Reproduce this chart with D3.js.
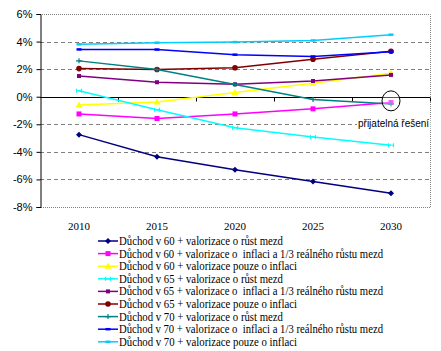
<!DOCTYPE html>
<html>
<head>
<meta charset="utf-8">
<script src="https://cdn.jsdelivr.net/npm/d3@7"></script>
<style>
  body { margin: 0; background: #fff; }
  svg { display: block; }
  .ylab { font: 11px "Liberation Sans", Arial, sans-serif; }
  .xlab { font: 11px "Liberation Serif", "Times New Roman", serif; }
  .leg { font: 12px "Liberation Serif", "Times New Roman", serif; white-space: pre; }
  .note { font: 10px "Liberation Sans", Arial, sans-serif; }
</style>
</head>
<body>
<div id="container"></div>
<script>
// data
const years = [2010, 2015, 2020, 2025, 2030];
const yTicks = [-8, -6, -4, -2, 0, 2, 4, 6];

const seriesNames = [
  "Důchod v 60 + valorizace o růst mezd",
  "Důchod v 60 + valorizace o  inflaci a 1/3 reálného růstu mezd",
  "Důchod v 60 + valorizace pouze o inflaci",
  "Důchod v 65 + valorizace o růst mezd",
  "Důchod v 65 + valorizace o  inflaci a 1/3 reálného růstu mezd",
  "Důchod v 65 + valorizace pouze o inflaci",
  "Důchod v 70 + valorizace o růst mezd",
  "Důchod v 70 + valorizace o  inflaci a 1/3 reálného růstu mezd",
  "Důchod v 70 + valorizace pouze o inflaci"
];

const d60Rust = [-2.75, -4.35, -5.3, -6.15, -7.0];
const d60Tretina = [-1.25, -1.58, -1.25, -0.88, -0.42];
const d60Inflace = [-0.6, -0.38, 0.3, 0.97, 1.7];
const d65Rust = [0.44, -0.95, -2.25, -2.92, -3.52];
const d65Tretina = [1.5, 1.05, 0.9, 1.14, 1.58];
const d65Inflace = [2.04, 1.97, 2.1, 2.72, 3.3];
const d70Rust = [2.6, 1.97, 0.88, -0.2, -0.52];
const d70Tretina = [3.43, 3.42, 3.05, 2.92, 3.26];
const d70Inflace = [3.8, 3.92, 3.96, 4.08, 4.5];

const seriesValues = [d60Rust, d60Tretina, d60Inflace, d65Rust, d65Tretina,
                      d65Inflace, d70Rust, d70Tretina, d70Inflace];

const colors = ["#000080", "#ff00ff", "#ffff00", "#00ffff", "#800080",
                "#800000", "#008080", "#0000ff", "#00ccff"];
const markers = ["diamond", "square", "triangle", "cross", "smallsquare",
                 "circle", "plus", "dash", "dash"];

const noteText = "přijatelná řešení";

const WIDTH = 441, HEIGHT = 351;
const plot = { left: 40, right: 430, top: 14, bottom: 207 };

const svg = d3.select("#container").append("svg")
  .attr("width", WIDTH).attr("height", HEIGHT);

const x = d3.scaleBand().domain(years).range([plot.left, plot.right]);
const y = d3.scaleLinear().domain([-8, 6]).range([plot.bottom, plot.top]);
const cx = d => x(d) + x.bandwidth() / 2;

// gridlines
svg.append("g").selectAll("line")
  .data(yTicks.filter(t => t !== 0 && t !== -8 && t !== 6))
  .join("line")
  .attr("x1", plot.left).attr("x2", plot.right)
  .attr("y1", d => Math.round(y(d)) + 0.5).attr("y2", d => Math.round(y(d)) + 0.5)
  .attr("stroke", "#808080").attr("stroke-dasharray", "4,3");

// plot border (dotted)
svg.append("path")
  .attr("d", `M${plot.left},${plot.top + 0.5}H${plot.right + 0.5}V${plot.bottom + 0.5}H${plot.left}`)
  .attr("fill", "none").attr("stroke", "#808080").attr("stroke-dasharray", "1,1");

// y axis
const yAxis = d3.axisLeft(y).tickValues(yTicks).tickSize(4).tickFormat(d => d + "%");
const gy = svg.append("g")
  .attr("transform", `translate(${plot.left + 0.5},0)`)
  .call(yAxis);
gy.select(".domain").attr("stroke", "#000");
gy.selectAll("text").attr("class", "ylab").attr("font-family", null).attr("font-size", null)
  .attr("x", -8).attr("fill", "#000");

// x axis at 0%
const xAxis = d3.axisBottom(x).tickSize(0).tickFormat(d => d);
const gx = svg.append("g")
  .attr("transform", `translate(0,${Math.round(y(0)) + 0.5})`)
  .call(xAxis);
gx.select(".domain").attr("stroke", "#000").attr("d", `M${plot.left},0H${plot.right}`);
gx.selectAll("text").attr("class", "xlab").attr("font-family", null).attr("font-size", null)
  .attr("fill", "#000")
  .attr("y", plot.bottom + 22 - Math.round(y(0))).attr("dy", null);
gx.selectAll(".band-tick")
  .data(years)
  .join("line")
  .attr("x1", d => x(d) + x.bandwidth() + 0.5).attr("x2", d => x(d) + x.bandwidth() + 0.5)
  .attr("y1", 0).attr("y2", 4).attr("stroke", "#000");

// marker drawing
function drawMarker(g, type, color) {
  if (type === "diamond") {
    g.append("path").attr("d", "M0,-3L3,0L0,3L-3,0Z").attr("fill", color);
  } else if (type === "square") {
    g.append("rect").attr("x", -2.5).attr("y", -2.5).attr("width", 5).attr("height", 5).attr("fill", color);
  } else if (type === "smallsquare") {
    g.append("rect").attr("x", -2).attr("y", -2).attr("width", 4).attr("height", 4).attr("fill", color);
  } else if (type === "triangle") {
    g.append("path").attr("d", "M0,-3.5L3.5,2.5L-3.5,2.5Z").attr("fill", color);
  } else if (type === "circle") {
    g.append("circle").attr("r", 2.8).attr("fill", color);
  } else if (type === "cross") {
    g.append("path").attr("d", "M-2.5,-2V2M2.5,-2V2M-3,0H3").attr("stroke", color).attr("stroke-width", 1.2);
  } else if (type === "plus") {
    g.append("path").attr("d", "M0,-2.5V2.5M-3,0H3").attr("stroke", color).attr("stroke-width", 1.2);
  } else if (type === "dash") {
    g.append("path").attr("d", "M-2.5,0H2.5").attr("stroke", color).attr("stroke-width", 2.5);
  }
}

const line = d3.line().x(d => cx(d.year)).y(d => y(d.value));

const seriesData = seriesValues.map((vals, i) => ({
  name: seriesNames[i], color: colors[i], marker: markers[i],
  points: years.map((yr, j) => ({ year: yr, value: vals[j] }))
}));

const series = svg.append("g").selectAll("g")
  .data(seriesData)
  .join("g");

series.append("path")
  .attr("d", d => line(d.points))
  .attr("fill", "none")
  .attr("stroke", d => d.color)
  .attr("stroke-width", 1.5);

series.each(function (s) {
  d3.select(this).selectAll(".pt")
    .data(s.points)
    .join("g")
    .attr("class", "pt")
    .attr("transform", d => `translate(${cx(d.year)},${y(d.value)})`)
    .each(function () { drawMarker(d3.select(this), s.marker, s.color); });
});

// annotation ellipse
svg.append("ellipse")
  .attr("cx", cx(2030)).attr("cy", y(-0.3))
  .attr("rx", 9).attr("ry", 10)
  .attr("fill", "#fff").attr("fill-opacity", 0.35)
  .attr("stroke", "#000").attr("stroke-width", 1);

const note = svg.append("g");
const noteBox = note.append("rect").attr("fill", "#fff");
const noteT = note.append("text").attr("class", "note")
  .attr("x", 358).attr("y", 127).attr("fill", "#000").text(noteText);
const bb = noteT.node().getBBox();
noteBox.attr("x", bb.x - 1).attr("y", bb.y).attr("width", bb.width + 2).attr("height", bb.height);

// legend
const legRowH = 12.6;
const legW = [164, 264, 178, 164, 264, 178, 164, 264, 178];
const legend = svg.append("g").selectAll("g")
  .data(seriesData)
  .join("g")
  .attr("transform", (d, i) => `translate(98,${241 + i * legRowH})`);

legend.append("line")
  .attr("x1", 0).attr("x2", 20)
  .attr("stroke", d => d.color).attr("stroke-width", 1.5);
legend.each(function (d) {
  const m = d3.select(this).append("g").attr("transform", "translate(10,0)");
  drawMarker(m, d.marker, d.color);
});
legend.append("text")
  .attr("class", "leg")
  .attr("x", 21).attr("y", 4)
  .attr("textLength", (d, i) => legW[i])
  .attr("lengthAdjust", "spacingAndGlyphs")
  .attr("fill", "#000")
  .text(d => d.name);
</script>
</body>
</html>
